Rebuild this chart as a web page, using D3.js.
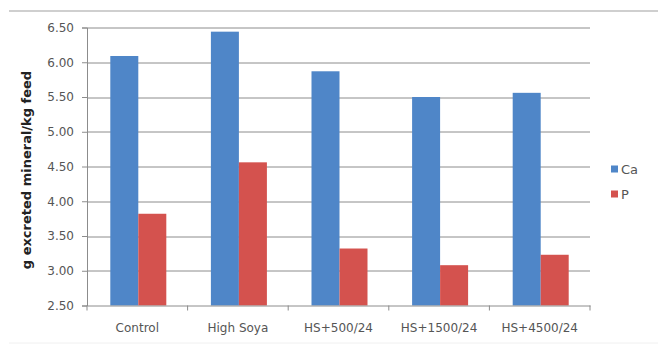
<!DOCTYPE html>
<html>
<head>
<meta charset="utf-8">
<script src="https://cdn.jsdelivr.net/npm/d3@7/dist/d3.min.js"></script>
<style>
  html, body { margin: 0; padding: 0; background: #fff; }
  svg text { font-family: "DejaVu Sans", "Lato", sans-serif; }
</style>
</head>
<body>
<svg id="chart" width="658" height="347"></svg>
<script>
// Mineral excretion per kg of feed, by diet
const categories = ["Control", "High Soya", "HS+500/24", "HS+1500/24", "HS+4500/24"];
const seriesNames = ["Ca", "P"];
const caValues = [6.09, 6.44, 5.87, 5.50, 5.56];
const pValues = [3.82, 4.56, 3.32, 3.08, 3.23];
const yTicks = [2.5, 3.0, 3.5, 4.0, 4.5, 5.0, 5.5, 6.0, 6.5];
const colors = ["#4F86C8", "#D4524E"];

const svg = d3.select("#chart");
const margin = { left: 87, right: 68, top: 27.5, bottom: 41.5 };
const W = 658, H = 347;
const plotW = W - margin.left - margin.right;
const plotH = H - margin.top - margin.bottom;

// chart frame line along the top
svg.append("line")
  .attr("x1", 9).attr("x2", 658).attr("y1", 11).attr("y2", 11)
  .attr("stroke", "#cfcfcf").attr("stroke-width", 2);
svg.append("line")
  .attr("x1", 9).attr("x2", 658).attr("y1", 343).attr("y2", 343)
  .attr("stroke", "#f0f0f0").attr("stroke-width", 1);

const g = svg.append("g").attr("transform", `translate(${margin.left},${margin.top})`);

const x0 = d3.scaleBand().domain(categories).range([0, plotW]).paddingInner(0).paddingOuter(0);
const x1 = d3.scaleBand().domain(seriesNames).range([0, 56]).padding(0);
const y = d3.scaleLinear().domain([2.5, 6.5]).range([plotH, 0]);

// horizontal gridlines
g.append("g").selectAll("line").data(yTicks.slice(1)).join("line")
  .attr("x1", 0).attr("x2", plotW)
  .attr("y1", d => Math.round(y(d)) + 0.5).attr("y2", d => Math.round(y(d)) + 0.5)
  .attr("stroke", "#8c8c8c").attr("stroke-width", 1);

// bars
const rows = categories.map((c, i) => ({ cat: c, vals: [caValues[i], pValues[i]] }));
const groups = g.append("g").selectAll("g").data(rows).join("g")
  .attr("transform", d => `translate(${x0(d.cat) + (x0.bandwidth() - 56) / 2 + 1},0)`);
groups.selectAll("rect").data(d => d.vals.map((v, k) => ({ k, v }))).join("rect")
  .attr("x", d => x1(seriesNames[d.k]))
  .attr("width", x1.bandwidth())
  .attr("y", d => y(d.v))
  .attr("height", d => plotH - y(d.v))
  .attr("fill", d => colors[d.k]);

// y axis
const yAxis = g.append("g")
  .call(d3.axisLeft(y).tickValues(yTicks).tickFormat(d3.format(".2f")).tickSize(5).tickPadding(8));
yAxis.select(".domain").attr("stroke", "#8c8c8c");
yAxis.selectAll(".tick line").attr("stroke", "#8c8c8c");
yAxis.selectAll("text").attr("font-size", 12).attr("fill", "#555");

// x axis
const xAxis = g.append("g").attr("transform", `translate(0,${plotH})`)
  .call(d3.axisBottom(x0).tickSize(0).tickPadding(18));
xAxis.select(".domain").attr("stroke", "#8c8c8c");
xAxis.selectAll("text").attr("font-size", 12).attr("fill", "#555");
g.append("g").selectAll("line").data(d3.range(categories.length + 1)).join("line")
  .attr("x1", i => i * x0.step()).attr("x2", i => i * x0.step())
  .attr("y1", plotH).attr("y2", plotH + 5)
  .attr("stroke", "#8c8c8c");

// y axis title
svg.append("text")
  .attr("transform", "translate(26,170) rotate(-90)")
  .attr("text-anchor", "middle").attr("dy", "0.35em")
  .attr("font-size", 13).attr("font-weight", "bold").attr("fill", "#222")
  .text("g excreted mineral/kg feed");

// legend
const legend = svg.append("g").attr("transform", "translate(611,169)");
seriesNames.forEach((s, i) => {
  const row = legend.append("g").attr("transform", `translate(0,${i * 25})`);
  row.append("rect").attr("x", 0).attr("y", -3.5).attr("width", 7).attr("height", 7).attr("fill", colors[i]);
  row.append("text").attr("x", 10).attr("y", 0).attr("dy", "0.35em")
    .attr("font-size", 13).attr("fill", "#555").text(s);
});
</script>
</body>
</html>
